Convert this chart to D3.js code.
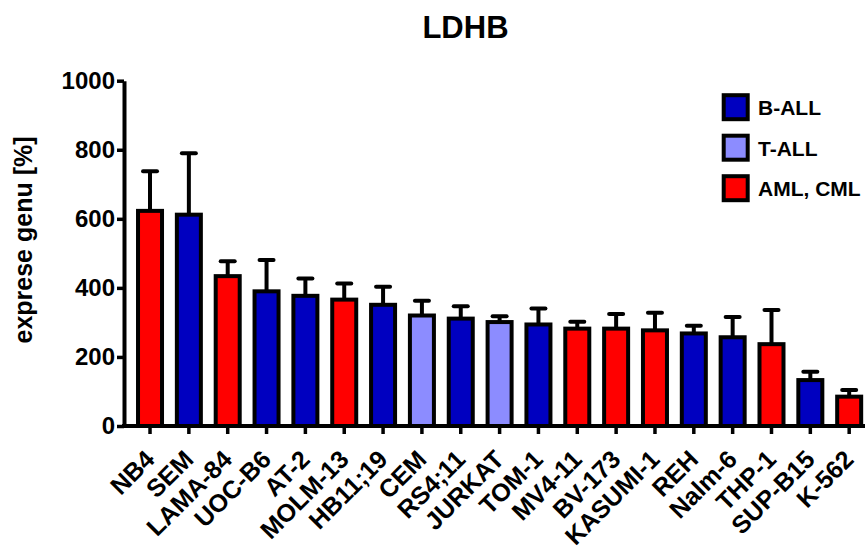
<!DOCTYPE html>
<html>
<head>
<meta charset="utf-8">
<script src="https://cdn.jsdelivr.net/npm/d3@7"></script>
<style>
  body { margin: 0; background: #fff; }
  svg { display: block; }
  text { font-family: "Liberation Sans", Arial, sans-serif; font-weight: bold; fill: #000; }
</style>
</head>
<body>
<svg id="chart" width="865" height="547"></svg>
<script>
// LDHB expression per leukemia cell line (mean and SD, % of reference)
const cellLines = ["NB4", "SEM", "LAMA-84", "UOC-B6", "AT-2", "MOLM-13", "HB11;19", "CEM", "RS4;11",
  "JURKAT", "TOM-1", "MV4-11", "BV-173", "KASUMI-1", "REH", "Nalm-6", "THP-1", "SUP-B15", "K-562"];
const cellGroups = ["AML, CML", "B-ALL", "AML, CML", "B-ALL", "B-ALL", "AML, CML", "B-ALL", "T-ALL", "B-ALL",
  "T-ALL", "B-ALL", "AML, CML", "AML, CML", "AML, CML", "B-ALL", "B-ALL", "AML, CML", "B-ALL", "AML, CML"];
const expression = [623, 612, 434, 390, 377, 366, 351, 320, 311, 301, 294, 282, 282, 277, 268, 257, 237, 133, 85];
const errorSD = [115, 178, 43, 91, 50, 47, 52, 43, 36, 17, 46, 20, 42, 51, 22, 59, 99, 24, 19];
const yTicks = [0, 200, 400, 600, 800, 1000];
const groupNames = ["B-ALL", "T-ALL", "AML, CML"];
const groupColors = ["#0000C0", "#8C8CFF", "#FF0000"];

const svg = d3.select("#chart");
const color = d3.scaleOrdinal().domain(groupNames).range(groupColors);

const x = d3.scaleBand()
  .domain(cellLines)
  .range([130.6, 868.6])
  .paddingInner(0.382)
  .paddingOuter(0.191);

const y = d3.scaleLinear().domain([0, 1000]).range([426, 80.7]);

const rows = cellLines.map((name, i) => ({
  name, group: cellGroups[i], value: expression[i], sd: errorSD[i]
}));

// error bars (upper only), drawn under the bars
const err = svg.append("g").attr("stroke", "#000").attr("stroke-width", 4);
rows.forEach(d => {
  const cx = x(d.name) + x.bandwidth() / 2;
  err.append("line")
    .attr("x1", cx).attr("x2", cx)
    .attr("y1", y(d.value)).attr("y2", y(d.value + d.sd));
  err.append("line")
    .attr("x1", cx - 7).attr("x2", cx + 7)
    .attr("y1", y(d.value + d.sd)).attr("y2", y(d.value + d.sd))
    .attr("stroke-linecap", "round");
});

// bars
svg.append("g").selectAll("rect")
  .data(rows)
  .join("rect")
  .attr("x", d => x(d.name))
  .attr("width", x.bandwidth())
  .attr("y", d => y(d.value))
  .attr("height", d => y(0) - y(d.value))
  .attr("fill", d => color(d.group))
  .attr("stroke", "#000")
  .attr("stroke-width", 4);

// y axis
const yAxis = svg.append("g")
  .attr("transform", "translate(124,0)")
  .call(d3.axisLeft(y).tickValues(yTicks).tickFormat(d3.format("d"))
    .tickSize(7).tickSizeOuter(0).tickPadding(2));
yAxis.select(".domain").attr("stroke-width", 4);
yAxis.selectAll(".tick line").attr("stroke-width", 3.5);
yAxis.selectAll(".tick text").style("font-size", "24px");

// x axis
const xAxis = svg.append("g")
  .attr("transform", `translate(0,${y(0)})`)
  .call(d3.axisBottom(x).tickSize(8).tickSizeOuter(0));
xAxis.select(".domain").remove();
xAxis.append("line")
  .attr("x1", 122).attr("x2", 865)
  .attr("stroke", "#000").attr("stroke-width", 4);
xAxis.selectAll(".tick line").attr("stroke-width", 3.5);
xAxis.selectAll(".tick text")
  .style("font-size", "25px")
  .attr("text-anchor", "end")
  .attr("x", 0).attr("y", 0).attr("dy", 0)
  .attr("transform", "translate(6,35) rotate(-45)");

// axis title
svg.append("text")
  .attr("transform", "translate(32,240) rotate(-90)")
  .attr("text-anchor", "middle")
  .style("font-size", "25px")
  .text("exprese genu [%]");

// chart title
svg.append("text")
  .attr("x", 465.5).attr("y", 37.7)
  .attr("text-anchor", "middle")
  .style("font-size", "31px")
  .text("LDHB");

// legend
const legend = svg.append("g");
groupNames.forEach((g, i) => {
  const cy = 107.2 + i * 40.5;
  legend.append("rect")
    .attr("x", 723.7).attr("y", cy - 12)
    .attr("width", 24).attr("height", 24)
    .attr("fill", color(g))
    .attr("stroke", "#000").attr("stroke-width", 4);
  legend.append("text")
    .attr("x", 758).attr("y", cy + 8)
    .style("font-size", "21px")
    .text(g);
});
</script>
</body>
</html>
